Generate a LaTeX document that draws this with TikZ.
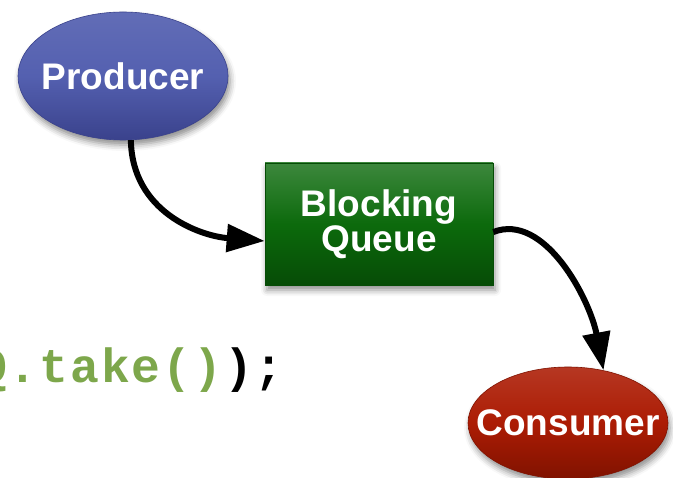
\documentclass[tikz,border=0pt]{standalone}
\usepackage{fontspec}
\setmainfont{Liberation Sans}
\newfontfamily\codefont[LetterSpace=4]{Liberation Mono}
\usetikzlibrary{shapes.geometric,arrows.meta,shadows.blur}
\definecolor{prodblue}{RGB}{84,96,176}
\definecolor{prodblueD}{RGB}{58,66,140}
\definecolor{queuegreen}{RGB}{12,106,12}
\definecolor{queuegreenD}{RGB}{6,76,6}
\definecolor{consred}{RGB}{172,28,4}
\definecolor{consredD}{RGB}{128,18,0}
\definecolor{codegreen}{RGB}{125,167,75}
\tikzset{
  shad/.style={blur shadow={shadow xshift=2pt,shadow yshift=-5pt,shadow blur radius=6pt,shadow opacity=45}},
  lbl/.style={text=white,font=\bfseries\fontsize{37}{30}\selectfont,align=center},
  oval/.style={ellipse,inner ysep=0pt,inner xsep=-25pt,shad,lbl},
  flow/.style={line width=6pt,-{Triangle[length=38pt,width=27pt]}},
  code/.style={font=\codefont\bfseries\fontsize{48}{48}\selectfont,anchor=base west,inner sep=0pt}
}
\begin{document}
\begin{tikzpicture}[x=1pt,y=-1pt]
\useasboundingbox (0,0) rectangle (673,478);
\clip (0,0) rectangle (673,478);
\node[oval,minimum width=210pt,minimum height=128pt,
      top color=prodblue!92!white,bottom color=prodblueD,middle color=prodblue,
      draw=prodblueD,line width=0.6pt] (prod) at (123,76) {Producer};
\node[rectangle,minimum width=228pt,minimum height=122pt,shad,lbl,
      top color=queuegreen!80!white,bottom color=queuegreenD,middle color=queuegreen,
      draw=queuegreenD,line width=0.6pt] (queue) at (379,224) {Blocking\\Queue};
\node[oval,minimum width=200pt,minimum height=112pt,
      top color=consred!88!white,bottom color=consredD,middle color=consred,
      draw=consredD,line width=0.6pt] (cons) at (568,423) {Consumer};
\node[code,text=codegreen] (take) at (-22,383) {Q.take()};
\node[code,text=black] (close) at (224,383) {);};
\draw[flow] (prod.-83) .. controls (132,212) and (200,236) .. ([yshift=-17pt]queue.west);
\draw[flow] ([yshift=-8pt]queue.east) .. controls (545,212) and (590,300) .. (cons.56);
\end{tikzpicture}
\end{document}
